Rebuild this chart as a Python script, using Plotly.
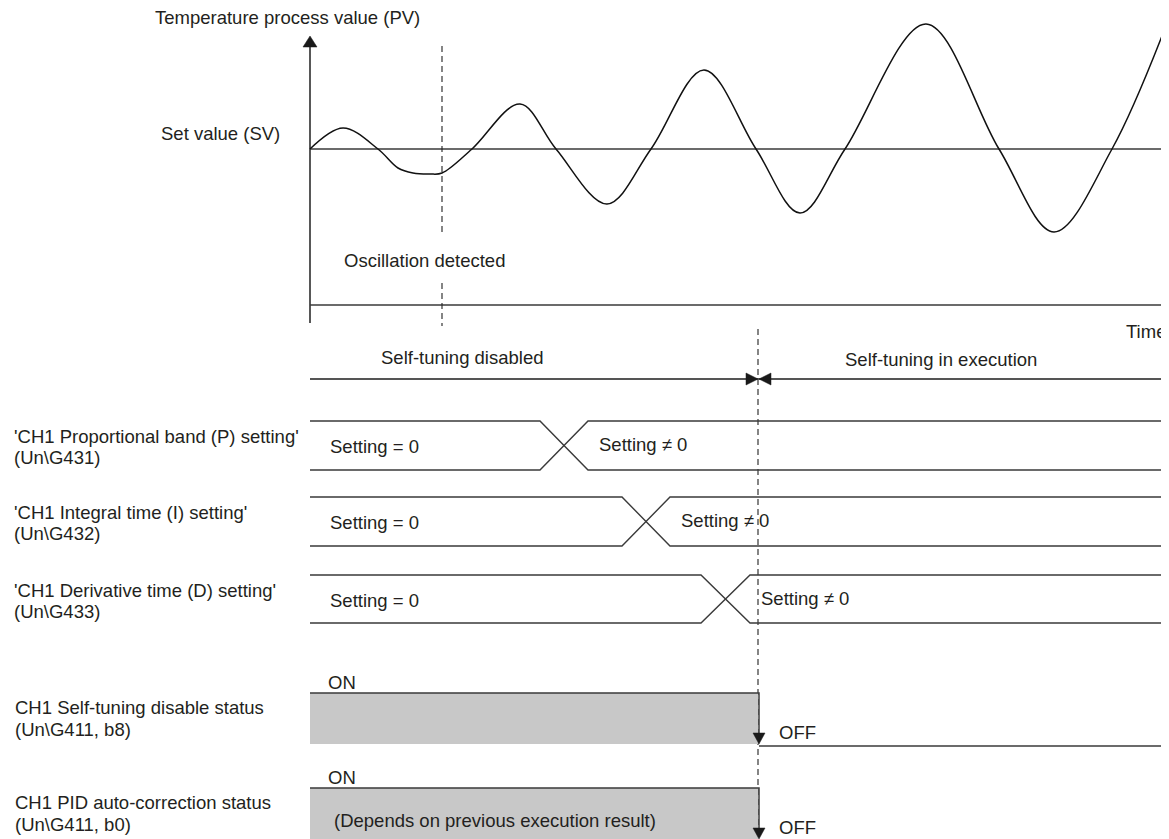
"""Self-tuning timing chart (oscillation detected -> self-tuning starts)."""

import plotly.graph_objects as go

# ---- data -------------------------------------------------------------
# PV trace (time, value on the drawing's scale)
pv_time = [310, 343, 378, 398, 413, 430, 442, 472, 520, 556, 607, 651, 704,
           756, 800, 845, 926, 999, 1054, 1112, 1169]
pv_value = [149, 128, 149, 168, 173, 174, 173, 149, 104, 149, 204, 149, 70,
            149, 213, 149, 24, 149, 232, 149, 18]

t_start = 310          # time origin
t_end = 1169           # right end of every track
sv_level = 149         # set value (SV)
time_axis_level = 305
osc_detected_t = 442   # oscillation detected
selftune_t = 758       # self-tuning starts

# setting rows: label, change start / end, band top / bottom
setting_labels = [
    ["'CH1 Proportional band (P) setting'", "(Un\\G431)"],
    ["'CH1 Integral time (I) setting'", "(Un\\G432)"],
    ["'CH1 Derivative time (D) setting'", "(Un\\G433)"],
]
setting_change_start = [540, 622, 701]
setting_change_end = [588, 670, 750]
setting_top = [421, 497, 575]
setting_bottom = [470, 546, 623]
setting_before = ["Setting = 0", "Setting = 0", "Setting = 0"]
setting_after = ["Setting \u2260 0", "Setting \u2260 0", "Setting \u2260 0"]

# status rows: ON until self-tuning starts
status_labels = [
    ["CH1 Self-tuning disable status", "(Un\\G411, b8)"],
    ["CH1 PID auto-correction status", "(Un\\G411, b0)"],
]
status_on_level = [693, 788]
status_off_level = [744, 839]
status_fill_text = ["", "(Depends on previous execution result)"]

INK = "#231f20"
LINE = "#3a3a3a"
GRAY = "#c8c8c8"
FONT = "Liberation Sans, Arial, sans-serif"
FS = 18.5
PAGE_MARGIN = 8  # the page body keeps its default 8px margin

fig = go.Figure()


def seg(xs, ys, color=LINE, width=1.4, dash=None, shape="linear"):
    fig.add_trace(go.Scatter(
        x=xs, y=ys, mode="lines", hoverinfo="skip", showlegend=False,
        line=dict(color=color, width=width, dash=dash, shape=shape),
    ))


def tri(tip_x, tip_y, direction, length=11, width=12):
    if direction == "up":
        xs = [tip_x, tip_x - width / 2, tip_x + width / 2]
        ys = [tip_y, tip_y + length, tip_y + length]
    elif direction == "down":
        xs = [tip_x, tip_x - width / 2, tip_x + width / 2]
        ys = [tip_y, tip_y - length, tip_y - length]
    elif direction == "right":
        xs = [tip_x, tip_x - length, tip_x - length]
        ys = [tip_y, tip_y - width / 2, tip_y + width / 2]
    else:
        xs = [tip_x, tip_x + length, tip_x + length]
        ys = [tip_y, tip_y - width / 2, tip_y + width / 2]
    fig.add_trace(go.Scatter(
        x=xs + [xs[0]], y=ys + [ys[0]], mode="lines", fill="toself",
        fillcolor="#1a1a1a", line=dict(color="#1a1a1a", width=0.5),
        hoverinfo="skip", showlegend=False,
    ))


def text(x, y, s, anchor="left"):
    fig.add_annotation(
        x=x, y=y, text=s, showarrow=False, xanchor=anchor, yanchor="middle",
        font=dict(family=FONT, size=FS, color=INK),
    )


# ---- PV chart ---------------------------------------------------------
seg([t_start, t_start], [42, 323], width=1.7)
tri(t_start, 36, "up", length=11, width=14)
seg([t_start, t_end], [sv_level, sv_level], width=1.5)
seg([t_start, 1163], [time_axis_level, time_axis_level], width=1.7)
tri(1174, time_axis_level, "right", length=12, width=13)
seg(pv_time, pv_value, color="#111111", width=1.5, shape="spline")

dash = dict(color="#222222", width=1.1, dash="6px,4px")
seg([osc_detected_t, osc_detected_t], [46, 232], **dash)
seg([osc_detected_t, osc_detected_t], [283, 326], **dash)
seg([selftune_t, selftune_t], [329, 839], **dash)

text(153, 17, "Temperature process value (PV)")
text(282, 133, "Set value (SV)", anchor="right")
text(342, 260, "Oscillation detected")
text(1168, 331, "Time", anchor="right")

# ---- self-tuning phase bar --------------------------------------------
seg([t_start, t_end], [379, 379], color="#555555", width=2)
tri(selftune_t, 379, "right", length=12, width=12)
tri(selftune_t + 1, 379, "left", length=12, width=12)
text(462, 357, "Self-tuning disabled", anchor="center")
text(941, 359, "Self-tuning in execution", anchor="center")

# ---- P / I / D setting rows -------------------------------------------
for i, lab in enumerate(setting_labels):
    top, bot = setting_top[i], setting_bottom[i]
    c0, c1 = setting_change_start[i], setting_change_end[i]
    seg([t_start, c0, c1, t_end], [top, top, bot, bot])
    seg([t_start, c0, c1, t_end], [bot, bot, top, top])
    mid = (top + bot) / 2
    text(12, mid - 9, lab[0])
    text(12, mid + 12, lab[1])
    text(328, mid + 1, setting_before[i])
    text(c1 + 9, mid - 1, setting_after[i])

# ---- status rows ------------------------------------------------------
for i, lab in enumerate(status_labels):
    on, off = status_on_level[i], status_off_level[i]
    fig.add_trace(go.Scatter(
        x=[t_start, selftune_t, selftune_t, t_start, t_start],
        y=[on, on, off, off, on], mode="lines", fill="toself",
        fillcolor=GRAY, line=dict(width=0), hoverinfo="skip",
        showlegend=False,
    ))
    seg([t_start, selftune_t + 1, selftune_t + 1], [on, on, off - 6], width=1.5)
    seg([selftune_t + 1, t_end], [off + 2, off + 2], width=1.5)
    tri(selftune_t + 1, off, "down", length=11, width=12)
    text(326, on - 11, "ON")
    text(777, off - 12, "OFF")
    if status_fill_text[i]:
        text(332, (on + off) / 2 + 7, status_fill_text[i])
    mid = (on + off) / 2
    text(13, mid - 11, lab[0])
    text(13, mid + 11, lab[1])

# the figure starts PAGE_MARGIN px into the page, so the visible axis
# window starts there too and everything lands on the reference's pixels
fig.update_layout(
    width=1169 - PAGE_MARGIN, height=839 - PAGE_MARGIN,
    margin=dict(l=0, r=0, t=0, b=0),
    paper_bgcolor="white", plot_bgcolor="white",
    xaxis=dict(range=[PAGE_MARGIN, 1169], visible=False, fixedrange=True),
    yaxis=dict(range=[839, PAGE_MARGIN], visible=False, fixedrange=True),
    showlegend=False,
)

fig.write_html("out.html")
